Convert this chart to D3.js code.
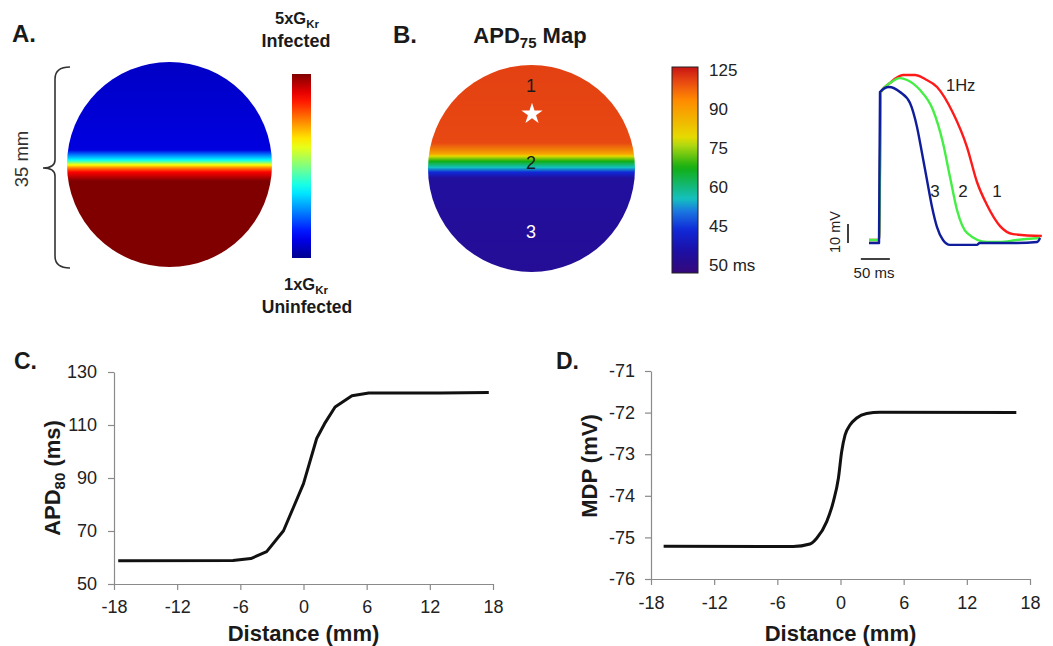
<!DOCTYPE html>
<html>
<head>
<meta charset="utf-8">
<script src="https://cdn.jsdelivr.net/npm/d3@7"></script>
<style>
  body { margin: 0; background: #fff; }
  svg { display: block; font-family: Arial, "Liberation Sans", sans-serif; }
</style>
</head>
<body>
<svg id="fig" width="1053" height="646"></svg>
<script>
// ---------- data ----------
// C: APD80 profile across the tissue (mm, ms)
const apdDistance = [-17.6, -6.7, -5.0, -3.5, -1.9, -1.0, 0.0, 1.25, 2.0, 3.0, 4.6, 6.2, 13.0, 17.6];
const apdValues   = [58.8, 58.9, 59.6, 62.2, 70.1, 78.5, 87.9, 104.9, 110.5, 116.8, 121.0, 122.1, 122.1, 122.3];
// D: maximum diastolic potential profile (mm, mV)
const mdpDistance = [-16.8, -4.5, -2.9, -2.26, -1.31, -0.68, -0.2, 0.11, 0.43, 0.9, 1.54, 2.49, 3.75, 16.7];
const mdpValues   = [-75.21, -75.22, -75.16, -75.02, -74.62, -74.14, -73.58, -72.94, -72.54, -72.3, -72.13, -72.02, -71.99, -72.0];
const distanceTicks = [-18, -12, -6, 0, 6, 12, 18];
const apdTicks = [50, 70, 90, 110, 130];
const mdpTicks = [-76, -75, -74, -73, -72, -71];

// Action potentials at sites 1, 2, 3 (ms, mV)
const ap1Time = [-19, -1.7, 1.7, 17.2, 39.7, 60.3, 77.6, 98.3, 125.9, 150, 167.2, 184.5, 207, 229.3, 279];
const ap1Volt = [-73.4, -73.4, 4.5, 9.2, 13.4, 13.4, 11.3, 7.1, -6.6, -24.5, -42.9, -55, -66.1, -70.3, -71.3];
const ap2Time = [-19, -1.7, 1.7, 17.2, 34.5, 46.6, 69, 91.4, 108.6, 120.7, 132.8, 150, 184.5, 207, 236, 276];
const ap2Volt = [-73.4, -73.4, 4.5, 9.2, 11.8, 10.8, 5.5, -5.0, -22.4, -40.3, -57.6, -69.7, -74.5, -74.5, -73.4, -72.4];
const ap3Time = [-19, -1.7, 0, 15.5, 34.5, 51.7, 63.8, 72.4, 81, 89.7, 98.3, 108.6, 120.7, 167, 172, 236, 271, 276];
const ap3Volt = [-75, -75, 4.5, 7.1, 4.5, -1.3, -13.9, -27.6, -41.8, -56, -66.6, -73.4, -76, -76, -75, -75, -74.5, -72.4];
const apSites = ["1", "2", "3"];

const mapTickLabels = ["125", "90", "75", "60", "45", "50 ms"];

// ---------- colour maps ----------
const jet = d3.scaleLinear()
  .domain([0, 0.125, 0.375, 0.625, 0.875, 1])
  .range(["#00008f", "#0000ff", "#00ffff", "#ffff00", "#ff0000", "#800000"]);
const rainbow = d3.scaleLinear()
  .domain([0, 0.11, 0.21, 0.3, 0.36, 0.51, 0.62, 0.66, 0.84, 0.93, 1])
  .range(["#35087a", "#1c10a6", "#1028d8", "#1a78e0", "#14c0c0", "#12ae12", "#b0d810", "#e6da00", "#ff8a00", "#e84812", "#c81414"]);

const svg = d3.select("#fig");
const defs = svg.append("defs");
const ink = "#1a1a1a";

function vGradient(id, stops) {
  const g = defs.append("linearGradient").attr("id", id)
    .attr("x1", 0).attr("y1", 0).attr("x2", 0).attr("y2", 1);
  g.selectAll("stop").data(stops).join("stop")
    .attr("offset", d => d[0]).attr("stop-color", d => d[1]);
}
function label(x, y, txt, opts = {}) {
  return svg.append("text").attr("x", x).attr("y", y)
    .attr("font-size", opts.size || 16)
    .attr("font-weight", opts.bold ? "bold" : null)
    .attr("text-anchor", opts.anchor || "start")
    .attr("fill", opts.fill || ink)
    .text(txt);
}

// ---------- panel A ----------
label(12, 42, "A.", { size: 24, bold: true });

// tissue: top half infected (5x GKr), bottom half uninfected
vGradient("gradA", [
  [0, jet(0.06)], [0.429, jet(0.09)], [0.454, jet(0.25)], [0.478, jet(0.375)],
  [0.502, jet(0.625)], [0.517, jet(0.75)], [0.537, jet(0.875)], [0.58, jet(1)], [1, jet(1)]
]);
svg.append("circle").attr("cx", 169.5).attr("cy", 164.5).attr("r", 102.5).attr("fill", "url(#gradA)");

// 35 mm brace
svg.append("path")
  .attr("d", "M70,67 Q55,67 55,79 L55,160 Q55,168 43,168 Q55,168 55,176 L55,256 Q55,268 70,268")
  .attr("fill", "none").attr("stroke", "#333").attr("stroke-width", 1.6);
svg.append("text").attr("transform", "translate(28,159) rotate(-90)")
  .attr("text-anchor", "middle").attr("font-size", 18.5).attr("fill", "#333").text("35 mm");

// jet colour bar
vGradient("barA", d3.range(0, 1.0001, 0.05).map(t => [t, jet(1 - t)]));
svg.append("rect").attr("x", 292).attr("y", 74).attr("width", 19).attr("height", 184).attr("fill", "url(#barA)");

function gkrLabel(x, y, prefix) {
  const t = svg.append("text").attr("x", x).attr("y", y).attr("text-anchor", "middle")
    .attr("font-size", 16.5).attr("font-weight", "bold").attr("fill", ink);
  t.append("tspan").text(prefix + "G");
  t.append("tspan").attr("font-size", 11.5).attr("dy", 3.5).text("Kr");
}
gkrLabel(297, 24, "5x");
label(296, 46.5, "Infected", { size: 18, bold: true, anchor: "middle" });
gkrLabel(306, 290, "1x");
label(307, 313, "Uninfected", { size: 17.5, bold: true, anchor: "middle" });

// ---------- panel B ----------
label(393, 43, "B.", { size: 24, bold: true });
const titleB = svg.append("text").attr("x", 530).attr("y", 43).attr("text-anchor", "middle")
  .attr("font-size", 22).attr("font-weight", "bold").attr("fill", ink);
titleB.append("tspan").text("APD");
titleB.append("tspan").attr("font-size", 15).attr("dy", 5).text("75");
titleB.append("tspan").attr("dy", -5).text(" Map");

vGradient("gradB", [
  [0, rainbow(0.94)], [0.376, rainbow(0.93)], [0.43, rainbow(0.78)], [0.44, rainbow(0.66)],
  [0.465, rainbow(0.51)], [0.495, rainbow(0.36)], [0.518, rainbow(0.21)], [0.546, rainbow(0.09)], [1, rainbow(0.07)]
]);
svg.append("circle").attr("cx", 531.5).attr("cy", 168.5).attr("r", 103.5).attr("fill", "url(#gradB)");

svg.append("path").attr("d", d3.symbol(d3.symbolStar, 140)())
  .attr("transform", "translate(532,114)").attr("fill", "#fff");
const siteY = [92, 169, 238];
apSites.forEach((s, i) => label(531, siteY[i], s, { size: 18, anchor: "middle", fill: i === 2 ? "#fff" : ink }));

vGradient("barB", d3.range(0, 1.0001, 0.02).map(t => [t, rainbow(1 - t)]));
svg.append("rect").attr("x", 672).attr("y", 67).attr("width", 26).attr("height", 206)
  .attr("fill", "url(#barB)").attr("stroke", "#222").attr("stroke-width", 1);
const barTicks = d3.scalePoint().domain(mapTickLabels).range([70, 265]);
svg.append("g").selectAll("text").data(mapTickLabels).join("text")
  .attr("x", 709).attr("y", d => barTicks(d)).attr("dy", "0.36em")
  .attr("font-size", 17).attr("fill", "#222").text(d => d);

// ---------- action potentials ----------
const tScale = d3.scaleLinear().domain([0, 50]).range([880, 909]);
const vScale = d3.scaleLinear().domain([-75, -65]).range([243, 224]);
const apLine = d3.line().curve(d3.curveMonotoneX).x(d => tScale(d[0])).y(d => vScale(d[1]));
const traces = [
  { t: ap1Time, v: ap1Volt, color: "#ff1a1a" },
  { t: ap2Time, v: ap2Volt, color: "#44ee44" },
  { t: ap3Time, v: ap3Volt, color: "#0f1c9c" }
];
svg.append("g").selectAll("path").data(traces).join("path")
  .attr("d", d => apLine(d.t.map((t, i) => [t, d.v[i]])))
  .attr("fill", "none").attr("stroke", d => d.color).attr("stroke-width", 2.4)
  .attr("stroke-linejoin", "round");

label(946, 91, "1Hz", { size: 16.5, fill: "#222" });
const traceLabelX = [997, 963, 935];
apSites.forEach((s, i) => label(traceLabelX[i], 197, s, { size: 17, anchor: "middle", fill: "#222" }));

// scale bars
svg.append("line").attr("x1", 848).attr("x2", 848).attr("y1", vScale(-75)).attr("y2", vScale(-65))
  .attr("stroke", "#111").attr("stroke-width", 1.6);
svg.append("line").attr("x1", tScale(-33)).attr("x2", tScale(17)).attr("y1", 259).attr("y2", 259)
  .attr("stroke", "#111").attr("stroke-width", 1.6);
svg.append("text").attr("transform", "translate(840,232) rotate(-90)").attr("text-anchor", "middle")
  .attr("font-size", 14.5).attr("fill", "#222").text("10 mV");
label(874, 278, "50 ms", { size: 15, anchor: "middle", fill: "#222" });

// ---------- line panels ----------
function linePanel(cfg) {
  const x = d3.scaleLinear().domain([-18, 18]).range(cfg.xr);
  const y = d3.scaleLinear().domain(cfg.yd).range(cfg.yr);
  const fmt = d => String(d);
  const gx = svg.append("g").attr("transform", `translate(0,${cfg.yr[0]})`)
    .call(d3.axisBottom(x).tickValues(distanceTicks).tickFormat(fmt).tickSize(6).tickSizeOuter(0).tickPadding(cfg.xPad));
  const gy = svg.append("g").attr("transform", `translate(${cfg.xr[0]},0)`)
    .call(d3.axisLeft(y).tickValues(cfg.yTicks).tickFormat(fmt).tickSize(6).tickSizeOuter(0).tickPadding(cfg.yPad));
  [gx, gy].forEach(g => {
    g.selectAll("path, line").attr("stroke", "#8a8a8a").attr("stroke-width", 1.2);
    g.selectAll("text").attr("font-size", 18).attr("fill", "#222")
      .attr("font-family", "Arial, 'Liberation Sans', sans-serif");
  });
  svg.append("path")
    .attr("d", d3.line().curve(cfg.curve).x(d => x(d[0])).y(d => y(d[1]))(cfg.xs.map((v, i) => [v, cfg.ys[i]])))
    .attr("fill", "none").attr("stroke", "#111").attr("stroke-width", 3).attr("stroke-linejoin", "round");
  label(cfg.letterX, 369, cfg.letter, { size: 23, bold: true });
  label((cfg.xr[0] + cfg.xr[1]) / 2, 641, "Distance (mm)", { size: 22, bold: true, anchor: "middle" });
  const yl = svg.append("text").attr("transform", `translate(${cfg.ylX},${cfg.ylY}) rotate(-90)`)
    .attr("text-anchor", "middle").attr("font-size", 22).attr("font-weight", "bold").attr("fill", ink);
  cfg.ylabel(yl);
}

linePanel({
  xr: [114, 493], yd: [50, 130], yr: [584, 372], yTicks: apdTicks, xPad: 10, yPad: 11,
  xs: apdDistance, ys: apdValues, curve: d3.curveLinear,
  letter: "C.", letterX: 14, ylX: 60, ylY: 478,
  ylabel: t => {
    t.append("tspan").text("APD");
    t.append("tspan").attr("font-size", 15).attr("dy", 5).text("80");
    t.append("tspan").attr("dy", -5).text(" (ms)");
  }
});
linePanel({
  xr: [651, 1030], yd: [-76, -71], yr: [579, 371], yTicks: mdpTicks, xPad: 11, yPad: 10,
  xs: mdpDistance, ys: mdpValues, curve: d3.curveMonotoneX,
  letter: "D.", letterX: 556, ylX: 597, ylY: 466,
  ylabel: t => t.text("MDP (mV)")
});
</script>
</body>
</html>
